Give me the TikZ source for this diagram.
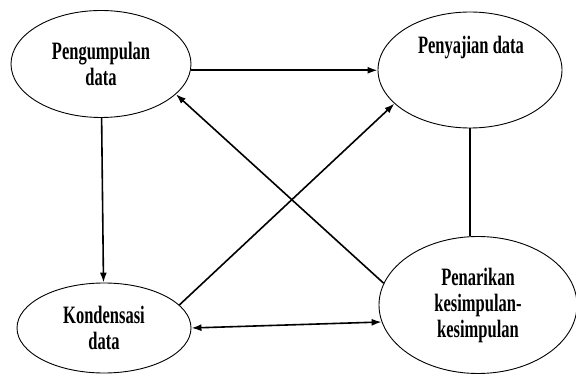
\documentclass[tikz,border=0pt]{standalone}
\usepackage{fontspec}
\newfontfamily\stagefont{Liberation Serif}[FakeStretch=0.66]
\usetikzlibrary{shapes.geometric,arrows.meta}
\begin{document}
\begin{tikzpicture}[x=1pt,y=-1pt,
    stage/.style={ellipse,draw,line width=0.9pt,inner sep=0pt,align=center,
      font=\stagefont\bfseries\fontsize{25}{26}\selectfont},
    flow/.style={line width=1.6pt,-{Latex[length=10pt,width=7pt]}}]
      \useasboundingbox (0,0) rectangle (576,374);
      \draw
        (101,64) node[stage,minimum width=180pt,minimum height=107pt] (peng){Pengumpulan\\data}
        (470,70) node[stage,minimum width=184pt,minimum height=116pt] (peny){}
        (471,48) node[stage,draw=none] (penyt){Penyajian data}
        (104,328) node[stage,minimum width=174pt,minimum height=90pt] (kond){Kondensasi\\data}
        (478,305) node[stage,minimum width=198pt,minimum height=137pt] (pen){Penarikan\\kesimpulan-\\kesimpulan};
      \begin{scope}[flow]
        \draw (peng.-4) to (peng.-4 -| peny.west);
        \draw (peng) to (kond);
        \draw (pen.167) to (peng.-22);
        \draw (kond.17) to (peny.204);
        \draw[{Latex[length=10pt,width=7pt]}-{Latex[length=10pt,width=7pt]}] (kond.east) to (pen.190);
        \draw[-,line width=1.2pt] (peny.south) to (peny.south |- pen.north);
      \end{scope}
    \end{tikzpicture}
\end{document}
